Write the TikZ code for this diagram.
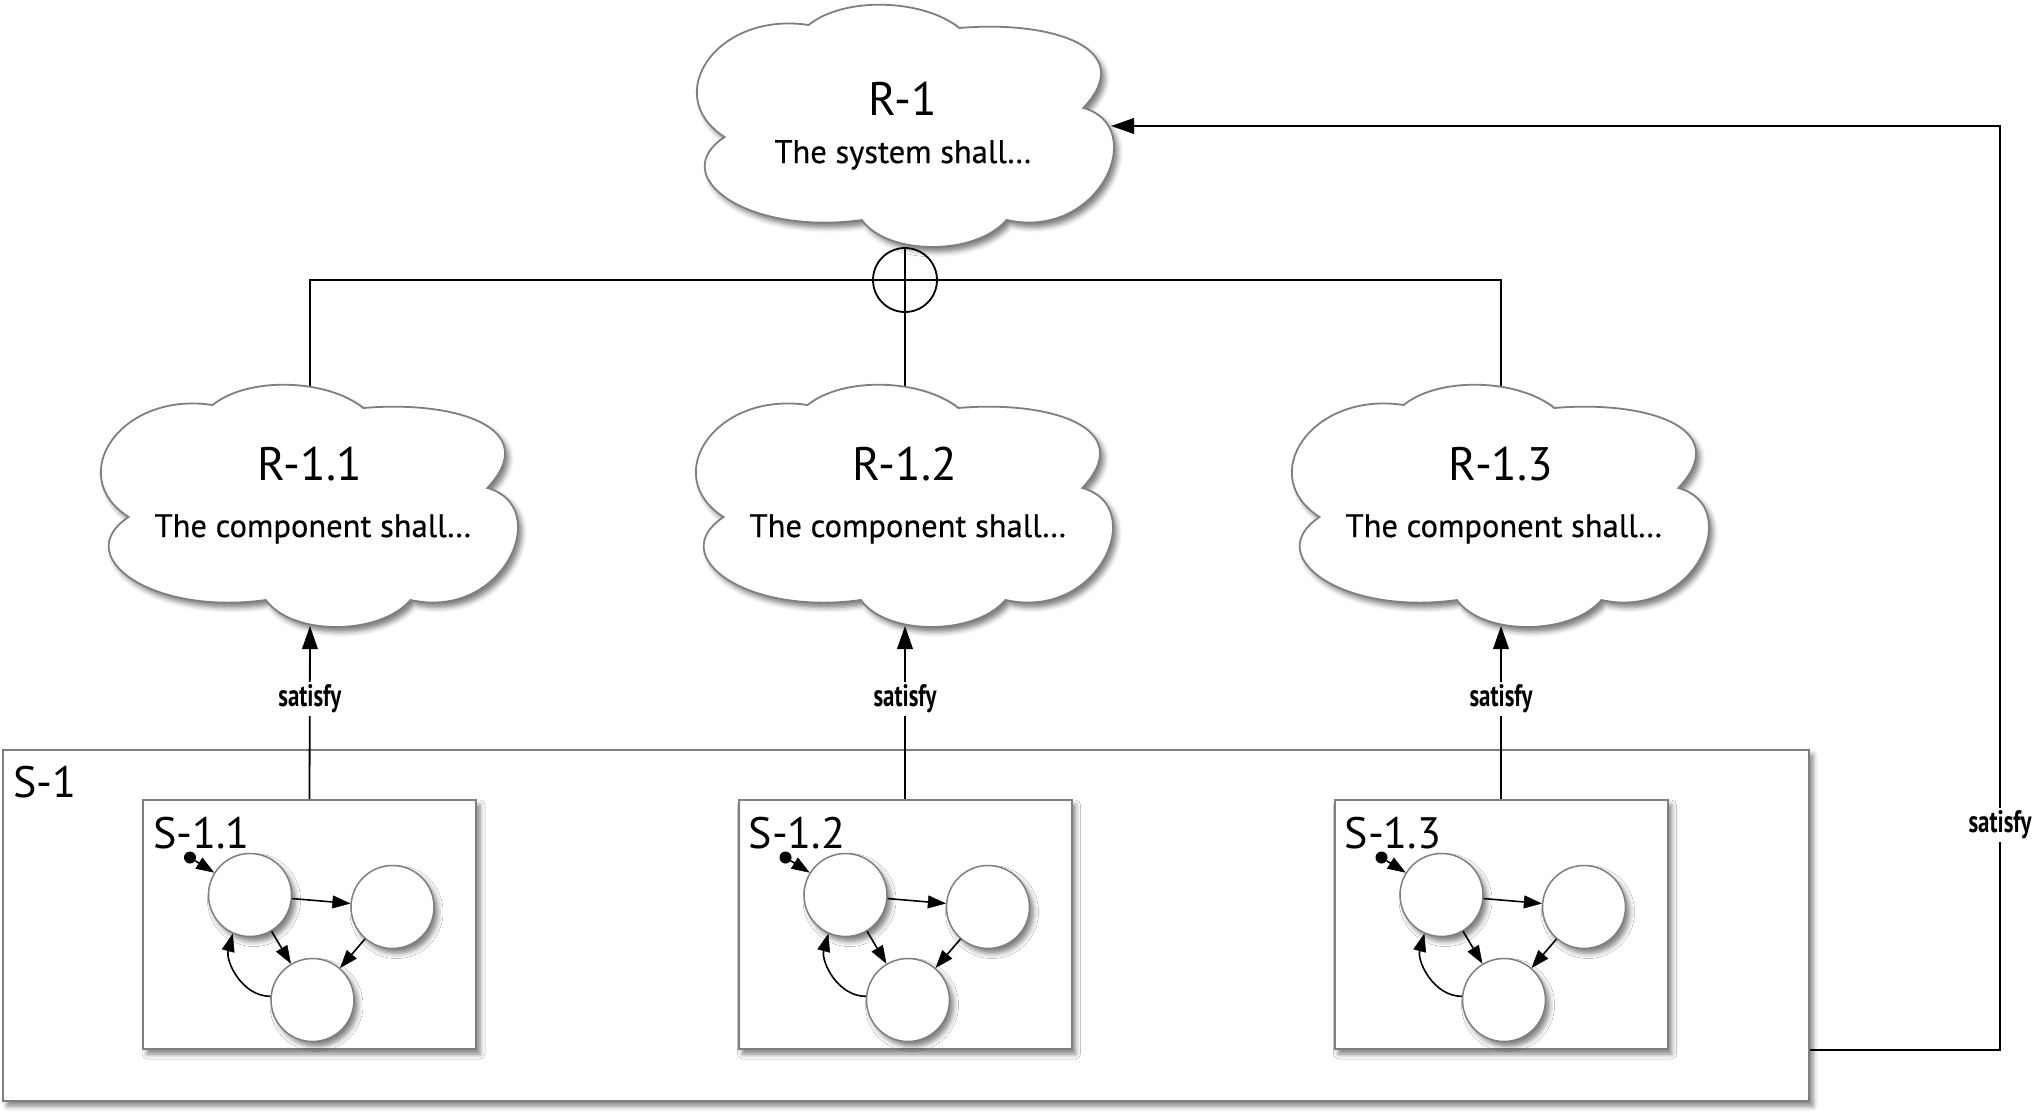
\documentclass[tikz,border=0pt]{standalone}
\usepackage{fontspec}
\setmainfont{PT Sans}
\newfontfamily\bodyf[FakeBold=0.5]{PT Sans}
\newfontfamily\satfont[FakeStretch=0.74]{PT Sans}
\usetikzlibrary{arrows.meta,shadows.blur}
\definecolor{outl}{HTML}{7F7F7F}
\tikzset{
  shad/.style={blur shadow={shadow xshift=4pt, shadow yshift=-5pt, shadow blur radius=5pt, shadow opacity=50}},
  cloudline/.style={draw=outl, line width=1.8pt, fill=white, shad},
  anchorbox/.style={rectangle, minimum width=410pt, minimum height=240pt, inner sep=0pt},
  headtext/.style={inner sep=0pt, font=\fontsize{47}{56}\selectfont},
  bodytext/.style={inner sep=0pt, font={\bodyf\fontsize{32.5}{39}\selectfont}},
  slabel/.style={inner sep=0pt, font=\fontsize{44}{50}\selectfont},
  satlabel/.style={fill=white, inner sep=3pt, font={\satfont\bfseries\fontsize{31}{35}\selectfont}},
  conn/.style={draw=black, line width=1.8pt, -{Triangle[length=23pt,width=16pt,fill=black,line width=0.5pt]}},
  plain/.style={line width=1.8pt},
  frame/.style={draw=outl, line width=2pt, fill=white, shad, inner sep=0pt},
  state/.style={circle, draw=outl, line width=1.5pt, fill=white, minimum size=83pt, inner sep=0pt, shad},
  smarrow/.style={draw=black, line width=1.6pt, -{Triangle[length=18pt,width=13pt,fill=black,line width=0.5pt]}},
  initdot/.style={circle, fill=black, minimum size=12pt, inner sep=0pt},
}
\newcommand\cloudat[2]{%
  \draw[cloudline, shift={(#1,#2)}, xscale=1.025] (-95,101) .. controls (-60,130) and (17,127) .. (52,98)
    .. controls (142,106) and (228,78) .. (173,18)
    .. controls (238,0) and (190,-115) .. (98,-94)
    .. controls (68,-130) and (-18,-130) .. (-43,-94)
    .. controls (-155,-110) and (-235,-50) .. (-177,-11)
    .. controls (-240,30) and (-185,115) .. (-95,101) -- cycle;}
\begin{document}
\begin{tikzpicture}[x=1pt,y=1pt]
\useasboundingbox (0,0) rectangle (2043,-1114);
% system frame
\node[frame, anchor=north west, minimum width=1806pt, minimum height=351pt] (s1) at (2,-749) {};
\node[slabel, anchor=base west] (s1lab) at (13,-797) {S-1};
% subsystems
\foreach \i/\cx in {1/309.5, 2/905, 3/1501}{
  \node[frame, minimum width=333pt, minimum height=249pt] (s1\i) at (\cx,-924.5) {};
  \node[slabel, anchor=base west] (s1\i lab) at (\cx-156.5,-848) {S-1.\i};
  \node[state] (a\i) at (\cx-59.5,-895) {};
  \node[state] (b\i) at (\cx+83,-907) {};
  \node[state] (c\i) at (\cx+3,-1000) {};
  \node[initdot] (d\i) at (\cx-119.5,-857.5) {};
  \draw[smarrow] (d\i) -- (a\i);
  \draw[smarrow] (a\i) -- (b\i);
  \draw[smarrow] (a\i) -- (c\i);
  \draw[smarrow] (b\i) -- (c\i);
  \draw[smarrow] (c\i.175) to[out=180,in=255] (a\i.246);
}
% clouds
\node[anchorbox] (rc0) at (906,-126) {};
\node[anchorbox] (rc1) at (310,-506) {};
\node[anchorbox] (rc2) at (905,-506) {};
\node[anchorbox] (rc3) at (1501,-506) {};
% decomposition lines
\node[circle, draw, line width=1.8pt, minimum size=64pt, inner sep=0pt, fill=white] (xor) at (905,-280) {};
\draw[plain] (xor.north) -- (xor.south);
\draw[plain] (xor.west) -- (xor.east);
\draw[plain] (xor.west) -| (rc1.north);
\draw[plain] (xor.east) -| (rc3.north);
\draw[plain] (xor.south) -- (rc2.north);
\cloudat{906}{-126}
\cloudat{310}{-506}
\cloudat{905}{-506}
\cloudat{1501}{-506}
\node[headtext, anchor=base] (r1h) at (903,-115) {R-1};
\node[bodytext, anchor=base] (r1b) at (903,-163) {The system shall…};
\foreach \i/\cx in {1/310, 2/905, 3/1501}{
  \node[headtext, anchor=base] (r1\i h) at (\cx,-480) {R-1.\i};
  \node[bodytext, anchor=base] (r1\i b) at (\cx+3,-537) {The component shall…};
  \draw[conn] (s1\i.north) -- node[satlabel, pos=0.58] (sat\i) {satisfy} (rc\i.south);
}
% system satisfy
\coordinate (rb) at (2000,-1050);
\draw[conn] (s1.east |- rb) -- (rb) -- node[satlabel, pos=0.2435] (sat0) {satisfy} (rb |- rc0.east) -- (rc0.east);
\end{tikzpicture}
\end{document}
